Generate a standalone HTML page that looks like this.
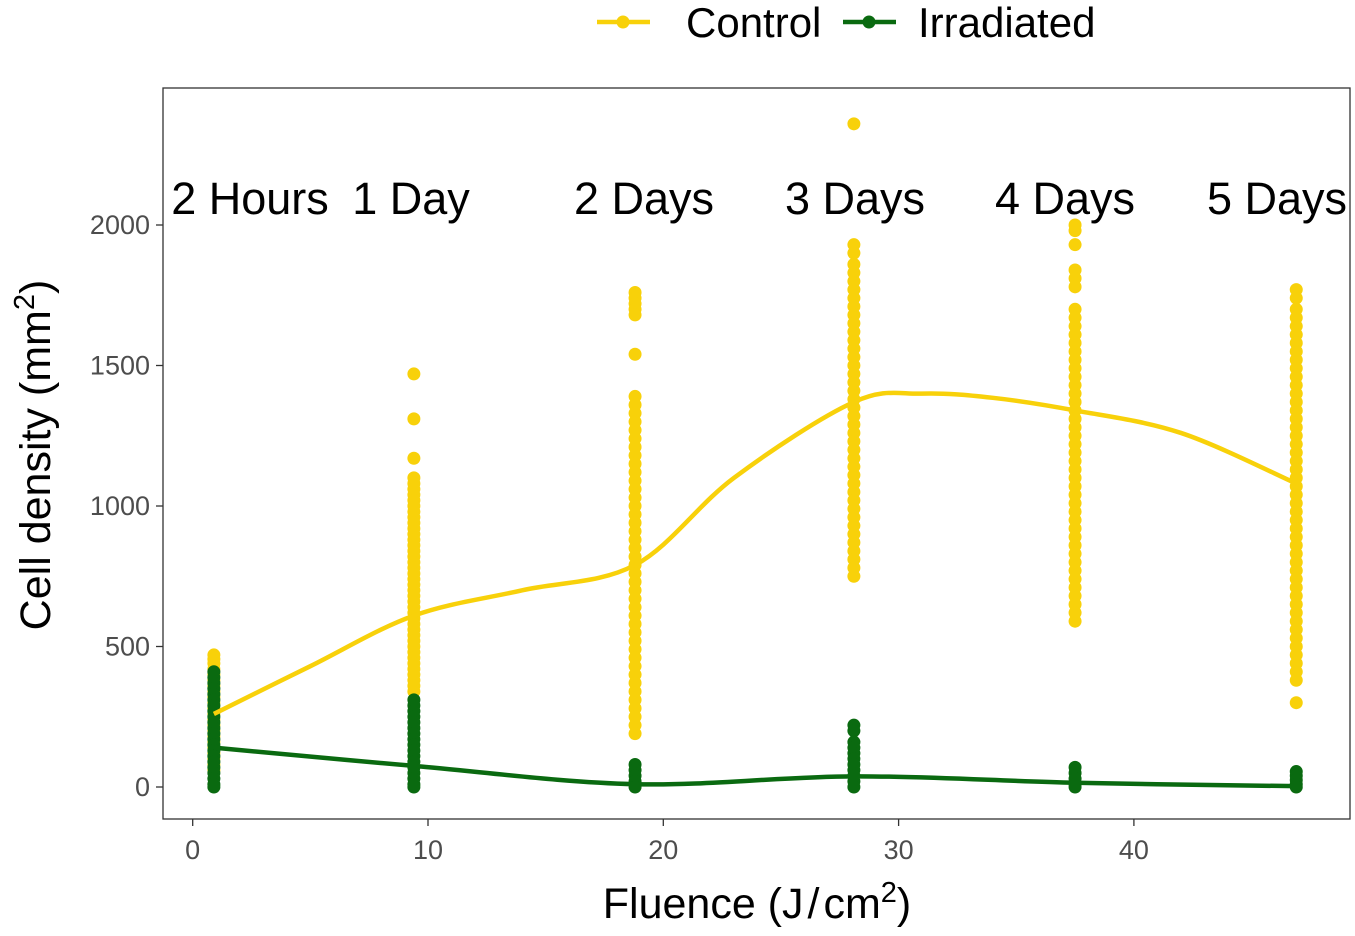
<!DOCTYPE html>
<html><head><meta charset="utf-8"><style>
body{margin:0;background:#fff}
svg text{font-family:"Liberation Sans",Arial,sans-serif}
</style></head><body>
<svg width="1355" height="931" xmlns="http://www.w3.org/2000/svg">
<g id="plot"></g>
</svg>
<script>
const xGroups=[0.9,9.4,18.8,28.1,37.5,46.9];
const controlPts=[
 [470,455,440,420,400,380,360,340,320,300,280,260,240,220,200,180,160,140,120,100,80,60],
 [1470,1310,1170,1100,1080,1060,1040,1020,1000,980,960,940,920,900,880,860,840,820,800,780,760,740,720,700,680,660,640,620,600,580,560,540,520,500,480,460,440,420,400,380,360,340],
 [1760,1740,1720,1700,1680,1540,1390,1360,1330,1300,1270,1240,1210,1180,1150,1120,1090,1060,1030,1000,970,940,910,880,850,820,790,760,730,700,670,640,610,580,550,520,490,460,430,400,370,340,310,280,250,220,190],
 [2360,1930,1900,1860,1830,1800,1770,1740,1710,1680,1650,1620,1590,1560,1530,1500,1470,1440,1410,1380,1350,1320,1290,1260,1230,1200,1170,1140,1110,1080,1050,1020,990,960,930,900,870,840,810,780,750],
 [2000,1980,1930,1840,1810,1780,1700,1670,1640,1610,1580,1550,1520,1490,1460,1430,1400,1370,1340,1310,1280,1250,1220,1190,1160,1130,1100,1070,1040,1010,980,950,920,890,860,830,800,770,740,710,680,650,620,590],
 [1770,1740,1700,1670,1640,1610,1580,1550,1520,1490,1460,1430,1400,1370,1340,1310,1280,1250,1220,1190,1160,1130,1100,1070,1040,1010,980,950,920,890,860,830,800,770,740,710,680,650,620,590,560,530,500,470,440,410,380,300]
];
const irrPts=[
 [410,390,370,350,330,310,290,270,250,230,210,190,170,150,130,110,90,70,50,30,10,0],
 [310,290,270,250,230,210,190,170,150,130,110,90,70,50,30,10,0],
 [80,60,40,20,0],
 [220,200,160,140,120,100,80,60,40,20,0],
 [70,50,30,10,0],
 [55,40,25,10,0]
];
const controlFitX=[0.9,5,9.4,14,18.8,23,28.1,31,34,37.5,42,46.9];
const controlFitY=[260,430,610,700,790,1100,1370,1400,1385,1340,1260,1080];
const irrFitX=[0.9,9.4,18.8,28.1,37.5,46.9];
const irrFitY=[140,75,10,38,15,3];
const xTicks=[0,10,20,30,40];
const yTicks=[0,500,1000,1500,2000];
const timeLabels=["2 Hours","1 Day","2 Days","3 Days","4 Days","5 Days"];
const labelX=[250,411,644,855,1065,1277];

const X=v=>192.7+v*23.53;
const Y=v=>787-v*0.281;
const NS="http://www.w3.org/2000/svg";
const g=document.getElementById('plot');
function mk(t,a){const e=document.createElementNS(NS,t);for(const k in a)e.setAttribute(k,a[k]);g.appendChild(e);return e;}
let e=mk('rect',{x:163,y:88,width:1187,height:731,fill:'none',stroke:'#333','stroke-width':1.3});


xTicks.forEach(t=>{
 let l=mk('line',{x1:X(t),x2:X(t),y1:819,y2:826,stroke:'#333','stroke-width':1.3});
 
 
 let s=mk('text',{x:X(t),y:859,'font-size':27,fill:'#4d4d4d','text-anchor':'middle'});s.textContent=t;
 
 
});
yTicks.forEach(t=>{
 let l=mk('line',{x1:156,x2:163,y1:Y(t),y2:Y(t),stroke:'#333','stroke-width':1.3});
 
 
 let s=mk('text',{x:150,y:Y(t)+9,'font-size':27,fill:'#4d4d4d','text-anchor':'end'});s.textContent=t;
 
 
});
function pts(arr,col,name){arr.forEach((col_,i)=>col_.forEach(v=>{
 let c=mk('circle',{cx:X(xGroups[i]),cy:Y(v),r:6.5,fill:col});
 
 
}));}
function line(xs,ys,col,name){
 const p=xs.map((x,i)=>[X(x),Y(ys[i])]);
 let d='M'+p[0];
 for(let i=0;i<p.length-1;i++){const p0=p[i-1]||p[i],p1=p[i],p2=p[i+1],p3=p[i+2]||p2;
  d+=` C${p1[0]+(p2[0]-p0[0])/6},${p1[1]+(p2[1]-p0[1])/6} ${p2[0]-(p3[0]-p1[0])/6},${p2[1]-(p3[1]-p1[1])/6} ${p2[0]},${p2[1]}`;}
 let l=mk('path',{d:d,fill:'none',stroke:col,'stroke-width':4.5});
 
 
}
pts(controlPts,'#f8d10a','control-point');
pts(irrPts,'#0a6a10','irradiated-point');
line(controlFitX,controlFitY,'#f8d10a','control-smooth-line');
line(irrFitX,irrFitY,'#0a6a10','irradiated-smooth-line');
timeLabels.forEach((t,i)=>{
 let s=mk('text',{x:labelX[i],y:214,'font-size':45,fill:'#000','text-anchor':'middle'});s.textContent=t;
 
 
});
</script>
<svg width="1355" height="931" style="position:absolute;left:0;top:0" xmlns="http://www.w3.org/2000/svg">
<g>
<g>
<line x1="597" y1="22" x2="650" y2="22" stroke="#f8d10a" stroke-width="4.5"/><circle cx="623" cy="22" r="6.5" fill="#f8d10a"/>
<text x="686" y="37" font-size="42" fill="#000" font-family="Liberation Sans,sans-serif">Control</text></g>
<g>
<line x1="843" y1="22" x2="896" y2="22" stroke="#0a6a10" stroke-width="4.5"/><circle cx="869" cy="22" r="6.5" fill="#0a6a10"/>
<text x="918" y="37" font-size="42" fill="#000" font-family="Liberation Sans,sans-serif">Irradiated</text></g>
</g>
<text x="757" y="918" font-size="43" text-anchor="middle" font-family="Liberation Sans,sans-serif">Fluence (J<tspan dx="4">/</tspan><tspan dx="4">cm</tspan><tspan dy="-16" font-size="29">2</tspan><tspan dy="16">)</tspan></text>
<text transform="translate(50,455) rotate(-90)" font-size="43" text-anchor="middle" font-family="Liberation Sans,sans-serif">Cell density (mm<tspan dy="-16" font-size="29">2</tspan><tspan dy="16">)</tspan></text>
</svg>
</body></html>
